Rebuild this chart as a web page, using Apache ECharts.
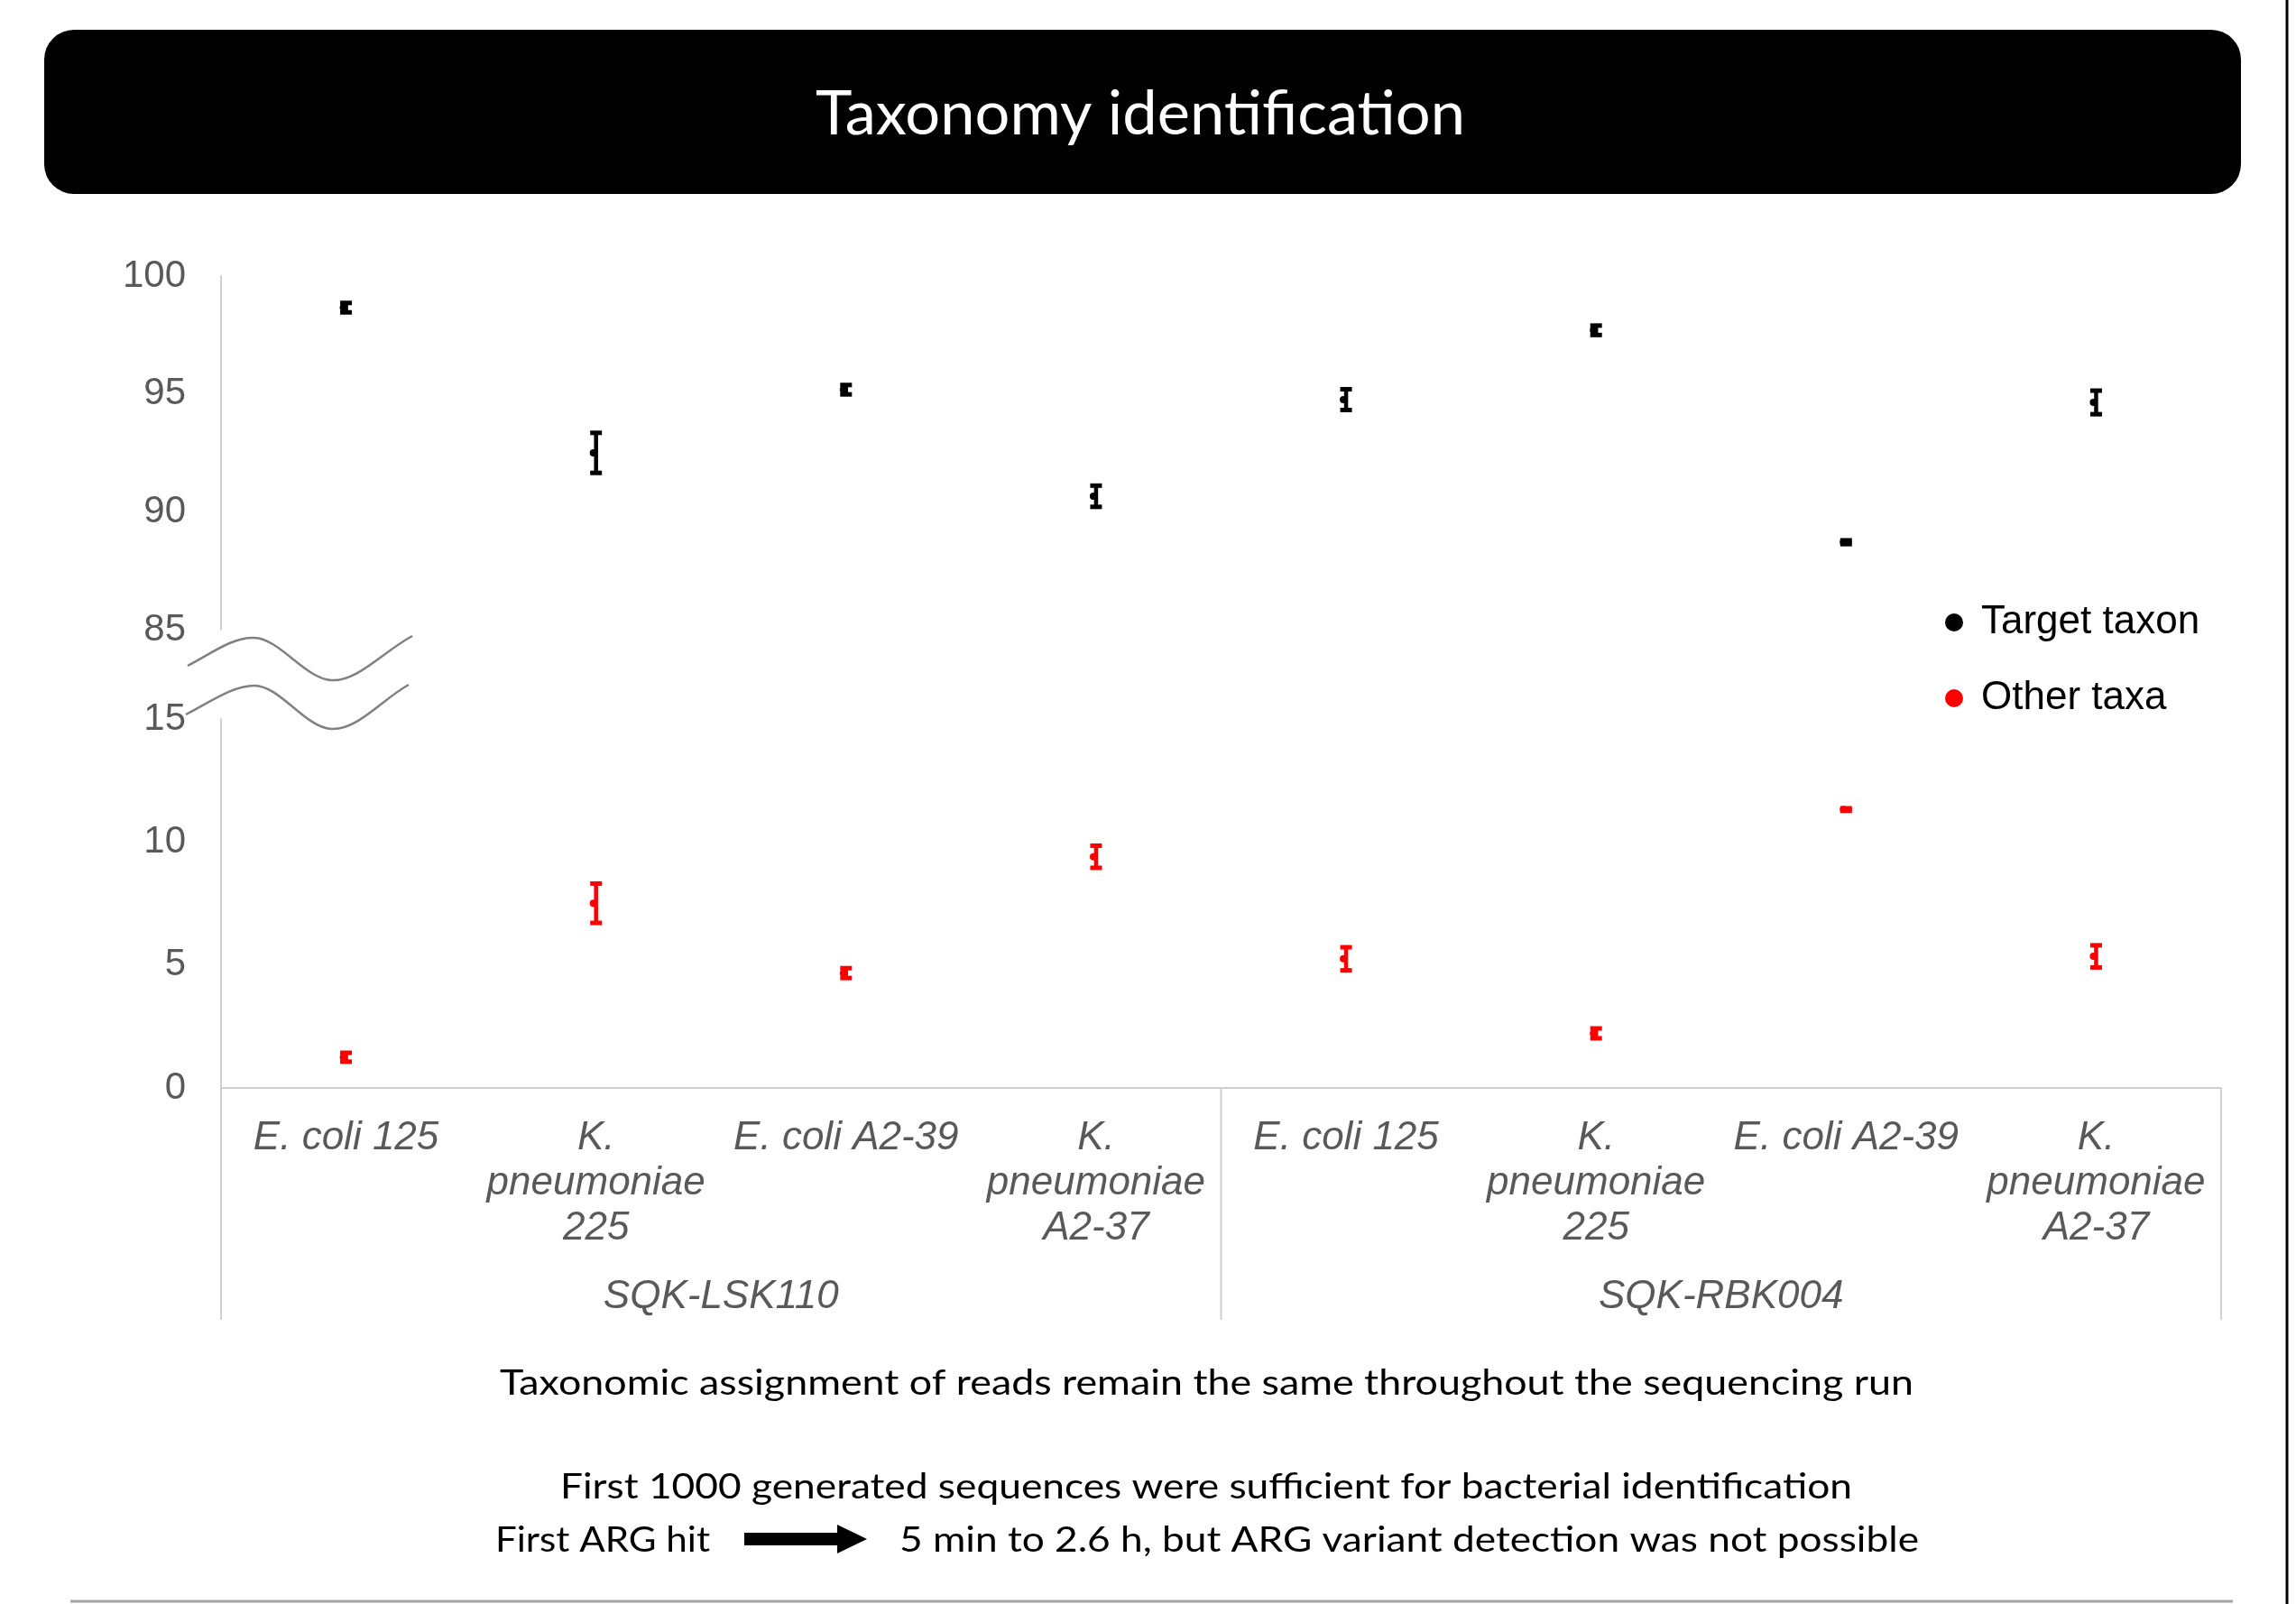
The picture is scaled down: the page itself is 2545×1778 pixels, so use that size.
<!DOCTYPE html>
<html>
<head>
<meta charset="utf-8">
<script src="https://cdn.jsdelivr.net/npm/echarts@6/dist/echarts.min.js"></script>
<style>
html, body { margin: 0; padding: 0; background: #ffffff; }
#chart { width: 2545px; height: 1778px; }
</style>
</head>
<body>
<div id="chart"></div>
<script>
// ---------------- data ----------------
const kits = ['SQK-LSK110', 'SQK-RBK004'];
const strainLabels = ['E. coli 125', 'K.\npneumoniae\n225', 'E. coli A2-39', 'K.\npneumoniae\nA2-37'];
const seriesNames = ['Target taxon', 'Other taxa'];

const targetMean = [98.66, 92.50, 95.18, 90.66, 94.76, 97.70, 88.71, 94.64];
const targetErr  = [0.20, 0.85, 0.20, 0.45, 0.44, 0.20, 0.08, 0.50];
const otherMean  = [1.25, 7.51, 4.67, 9.40, 5.25, 2.22, 11.32, 5.35];
const otherErr   = [0.18, 0.80, 0.20, 0.45, 0.47, 0.20, 0.05, 0.45];

const upperAxis = { min: 85, max: 100, interval: 5 };
const lowerAxis = { min: 0, max: 15, interval: 5 };

const titleText = 'Taxonomy identification';
const note1 = 'Taxonomic assignment of reads remain the same throughout the sequencing run';
const note2 = 'First 1000 generated sequences were sufficient for bacterial identification';
const note3a = 'First ARG hit';
const note3b = '5 min to 2.6 h, but ARG variant detection was not possible';

// ---------------- build ----------------
const categories = [];
kits.forEach(k => strainLabels.forEach(s => categories.push(k + '|' + s)));

const axisGray = '#d0d0d0';
const labelGray = '#595959';
const AX_FONT = 'Liberation Sans, Arial, sans-serif';
const NOTE_FONT = 'Lato, sans-serif';

function errRender(color) {
  return function (params, api) {
    const x = api.value(0);
    const lo = api.coord([x, api.value(1)]);
    const hi = api.coord([x, api.value(2)]);
    const cx = lo[0];
    const capW = 13, capH = 5;
    return {
      type: 'group',
      children: [
        { type: 'line', shape: { x1: cx, y1: lo[1], x2: cx, y2: hi[1] }, style: { stroke: color, lineWidth: 4.5 } },
        { type: 'rect', shape: { x: cx - capW / 2, y: lo[1] - capH / 2, width: capW, height: capH }, style: { fill: color } },
        { type: 'rect', shape: { x: cx - capW / 2, y: hi[1] - capH / 2, width: capW, height: capH }, style: { fill: color } }
      ]
    };
  };
}

const chart = echarts.init(document.getElementById('chart'), null, { renderer: 'canvas' });

const option = {
  backgroundColor: '#ffffff',
  animation: false,
  grid: [
    { left: 245, right: 83, top: 306, height: 392 },
    { left: 245, right: 83, top: 797, height: 409 }
  ],
  xAxis: [
    { gridIndex: 0, type: 'category', data: categories, show: false, boundaryGap: true },
    {
      gridIndex: 1, type: 'category', data: categories, boundaryGap: true,
      axisLine: { show: true, lineStyle: { color: axisGray, width: 2 } },
      axisTick: { show: false },
      axisLabel: {
        interval: 0, margin: 31,
        formatter: v => v.split('|')[1],
        fontFamily: AX_FONT, fontSize: 44, fontStyle: 'italic',
        color: labelGray, lineHeight: 50, align: 'center', verticalAlign: 'top'
      }
    }
  ],
  yAxis: [
    {
      gridIndex: 0, type: 'value', min: upperAxis.min, max: upperAxis.max, interval: upperAxis.interval,
      axisLine: { show: true, lineStyle: { color: axisGray, width: 2 } },
      axisTick: { show: false }, splitLine: { show: false },
      axisLabel: { margin: 39, fontFamily: AX_FONT, fontSize: 42, color: labelGray }
    },
    {
      gridIndex: 1, type: 'value', min: lowerAxis.min, max: lowerAxis.max, interval: lowerAxis.interval,
      axisLine: { show: true, lineStyle: { color: axisGray, width: 2 } },
      axisTick: { show: false }, splitLine: { show: false },
      axisLabel: { margin: 39, fontFamily: AX_FONT, fontSize: 42, color: labelGray }
    }
  ],
  legend: {
    data: seriesNames,
    orient: 'vertical', left: 2156, top: 668, padding: 0,
    itemWidth: 20, itemHeight: 20, itemGap: 40, icon: 'circle',
    textStyle: { fontFamily: AX_FONT, fontSize: 44, color: '#000000', padding: [0, 0, 0, 15] }
  },
  series: [
    {
      type: 'custom', name: 'target-err', xAxisIndex: 0, yAxisIndex: 0,
      renderItem: errRender('#000000'), encode: { x: 0, y: [1, 2] },
      data: targetMean.map((m, i) => [i, m - targetErr[i], m + targetErr[i]]), z: 2
    },
    {
      type: 'custom', name: 'other-err', xAxisIndex: 1, yAxisIndex: 1,
      renderItem: errRender('#ff0000'), encode: { x: 0, y: [1, 2] },
      data: otherMean.map((m, i) => [i, m - otherErr[i], m + otherErr[i]]), z: 2
    },
    {
      type: 'scatter', name: seriesNames[0], xAxisIndex: 0, yAxisIndex: 0,
      data: targetMean, symbol: 'circle', symbolSize: 8, symbolOffset: [-3, 0],
      itemStyle: { color: '#000000', opacity: 1 }, z: 3
    },
    {
      type: 'scatter', name: seriesNames[1], xAxisIndex: 1, yAxisIndex: 1,
      data: otherMean, symbol: 'circle', symbolSize: 8, symbolOffset: [-3, 0],
      itemStyle: { color: '#ff0000', opacity: 1 }, z: 3
    }
  ]
};
chart.setOption(option);

// --------- decorations positioned from the axes ---------
const px = i => chart.convertToPixel({ xAxisIndex: 1 }, categories[i]);
const bw = px(1) - px(0);
const yZero = chart.convertToPixel({ yAxisIndex: 1 }, lowerAxis.min);
const dividerX = [px(0) - bw / 2, px(3) + bw / 2, px(7) + bw / 2];

const mctx = document.createElement('canvas').getContext('2d');
function fitScale(text, size, family, target) {
  mctx.font = size + 'px ' + family;
  return target / mctx.measureText(text).width;
}
function fitText(text, left, cy, size, target, fill) {
  return {
    type: 'text', x: left, y: cy, scaleX: fitScale(text, size, NOTE_FONT, target), z: 10,
    style: { text: text, fontFamily: NOTE_FONT, fontSize: size, fill: fill, align: 'left', verticalAlign: 'middle' }
  };
}
function wave(pts) {
  // pts: start, then triples [cp1, cp2, end]
  const segs = [];
  let p = pts[0];
  for (let i = 1; i + 2 < pts.length + 1; i += 3) {
    const c1 = pts[i], c2 = pts[i + 1], e = pts[i + 2];
    segs.push({
      type: 'bezierCurve', z: 4,
      shape: { x1: p[0], y1: p[1], cpx1: c1[0], cpy1: c1[1], cpx2: c2[0], cpy2: c2[1], x2: e[0], y2: e[1] },
      style: { stroke: '#808080', lineWidth: 2.5, fill: null }
    });
    p = e;
  }
  return segs;
}

const graphics = [];
// header
graphics.push({ type: 'rect', shape: { x: 49, y: 33, width: 2435, height: 182, r: 33 }, style: { fill: '#000000' }, z: 5 });
graphics.push(fitText(titleText, 904, 127, 67, 720, '#ffffff'));
// divider lines under category axis
dividerX.forEach(x => graphics.push({
  type: 'line', shape: { x1: x, y1: yZero, x2: x, y2: yZero + 257 },
  style: { stroke: axisGray, lineWidth: 2 }, z: 1
}));
// kit group labels
kits.forEach((k, g) => graphics.push({
  type: 'text', x: (px(g * 4 + 1) + px(g * 4 + 2)) / 2, y: yZero + 232, z: 10,
  style: { text: k, fontFamily: AX_FONT, fontSize: 44, fontStyle: 'italic', fill: labelGray, align: 'center', verticalAlign: 'middle' }
}));
// axis break waves
wave([[208, 738], [235, 724], [258, 706], [282, 707], [310, 708], [338, 752], [367, 754], [396, 756], [425, 722], [457, 705]]).forEach(g => graphics.push(g));
wave([[206, 792], [233, 778], [258, 760], [282, 760], [310, 760], [338, 806], [367, 808], [396, 810], [425, 774], [453, 759]]).forEach(g => graphics.push(g));
// notes
graphics.push(fitText(note1, 554, 1533, 39, 1567, '#000000'));
graphics.push(fitText(note2, 621, 1648, 39, 1432, '#000000'));
graphics.push(fitText(note3a, 549, 1707, 39, 238, '#000000'));
graphics.push(fitText(note3b, 997, 1707, 39, 1130, '#000000'));
graphics.push({ type: 'polygon', shape: { points: [[825, 1699], [928, 1699], [928, 1690], [961, 1706], [928, 1722], [928, 1713], [825, 1713]] }, style: { fill: '#000000' }, z: 10 });
// frame lines
graphics.push({ type: 'line', shape: { x1: 2535, y1: 0, x2: 2535, y2: 1778 }, style: { stroke: '#000000', lineWidth: 3 }, z: 10 });
graphics.push({ type: 'line', shape: { x1: 78, y1: 1775, x2: 2475, y2: 1775 }, style: { stroke: '#a6a6a6', lineWidth: 3 }, z: 10 });

chart.setOption({ graphic: graphics });
</script>
</body>
</html>
